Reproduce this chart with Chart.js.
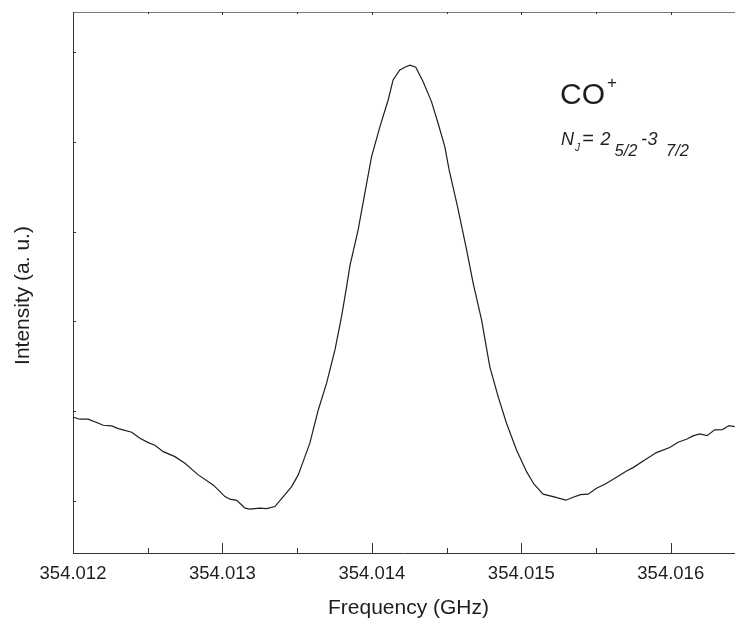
<!DOCTYPE html>
<html>
<head>
<meta charset="utf-8">
<script src="https://cdn.jsdelivr.net/npm/chart.js@4.4.0/dist/chart.umd.min.js"></script>
<style>
    body { margin: 0; background: #ffffff; }
    #wrap { width: 735px; height: 618px; position: relative; }
</style>
</head>
<body>
<div id="wrap"><canvas id="spectrumChart" width="735" height="618"></canvas></div>
<script>
// Data
const freqGHz = [
    354.012002, 354.012047, 354.012102, 354.012203, 354.012259, 354.012303, 354.012393, 354.012448, 354.012504, 354.012548,
    354.012604, 354.012682, 354.012749, 354.012838, 354.012938, 354.013017, 354.013050, 354.013095, 354.013117, 354.013151,
    354.013184, 354.013251, 354.013296, 354.013351, 354.013407, 354.013463, 354.013507, 354.013540, 354.013585, 354.013641,
    354.013697, 354.013753, 354.013797, 354.013831, 354.013853, 354.013908, 354.013953, 354.013998, 354.014054, 354.014109,
    354.014142, 354.014187, 354.014221, 354.014254, 354.014294, 354.014343, 354.014399, 354.014443, 354.014488, 354.014517,
    354.014575, 354.014634, 354.014678, 354.014734, 354.014789, 354.014845, 354.014901, 354.014968, 354.015035, 354.015084,
    354.015146, 354.015213, 354.015298, 354.015347, 354.015396, 354.015447, 354.015503, 354.015559, 354.015637, 354.015704,
    354.015748, 354.015826, 354.015904, 354.015993, 354.016049, 354.016105, 354.016149, 354.016194, 354.016243, 354.016294,
    354.016346, 354.016390, 354.016428
];
const intensity = [
    1.932, 1.910, 1.910, 1.843, 1.835, 1.805, 1.765, 1.698, 1.649, 1.620,
    1.549, 1.493, 1.420, 1.290, 1.178, 1.048, 1.019, 1.006, 0.974, 0.919,
    0.908, 0.919, 0.914, 0.937, 1.048, 1.159, 1.290, 1.438, 1.643, 2.013,
    2.311, 2.682, 3.052, 3.386, 3.617, 4.018, 4.427, 4.834, 5.168, 5.465,
    5.688, 5.800, 5.830, 5.852, 5.830, 5.669, 5.447, 5.206, 4.945, 4.686,
    4.263, 3.795, 3.424, 3.016, 2.496, 2.161, 1.865, 1.568, 1.326, 1.189,
    1.075, 1.048, 1.008, 1.041, 1.070, 1.075, 1.141, 1.186, 1.264, 1.334,
    1.371, 1.457, 1.538, 1.594, 1.654, 1.687, 1.724, 1.746, 1.727, 1.791,
    1.794, 1.839, 1.827
];
const xTicks = [354.012, 354.013, 354.014, 354.015, 354.016];
const xTickLabels = ['354.012', '354.013', '354.014', '354.015', '354.016'];
const xMinorTicks = [354.0125, 354.0135, 354.0145, 354.0155];
const yTicks = [1, 2, 3, 4, 5, 6];

const FONT = '"Liberation Sans", Arial, Helvetica, sans-serif';
const INK = '#1e1e1e';

// ticks, frame top and text labels
const decorPlugin = {
    id: 'decor',
    afterDraw(chart) {
        const ctx = chart.ctx;
        const area = chart.chartArea;
        const xs = chart.scales.x;
        const ys = chart.scales.y;
        ctx.save();

        // top frame line
        ctx.strokeStyle = '#7a7a7a';
        ctx.lineWidth = 1;
        ctx.beginPath();
        ctx.moveTo(area.left, area.top + 0.5);
        ctx.lineTo(area.right, area.top + 0.5);
        ctx.stroke();

        ctx.strokeStyle = '#333333';
        ctx.beginPath();
        xTicks.forEach(v => {
            const px = Math.round(xs.getPixelForValue(v)) + 0.5;
            ctx.moveTo(px, area.bottom);
            ctx.lineTo(px, area.bottom - 10);
            ctx.moveTo(px, area.top);
            ctx.lineTo(px, area.top + 3);
        });
        xMinorTicks.forEach(v => {
            const px = Math.round(xs.getPixelForValue(v)) + 0.5;
            ctx.moveTo(px, area.bottom);
            ctx.lineTo(px, area.bottom - 5);
            ctx.moveTo(px, area.top);
            ctx.lineTo(px, area.top + 2);
        });
        yTicks.forEach(v => {
            const py = Math.round(ys.getPixelForValue(v)) + 0.5;
            ctx.moveTo(area.left, py);
            ctx.lineTo(area.left + 3, py);
        });
        ctx.stroke();

        ctx.fillStyle = INK;
        ctx.textBaseline = 'alphabetic';

        // axis titles
        ctx.font = '21px ' + FONT;
        ctx.textAlign = 'center';
        ctx.fillText('Frequency (GHz)', 408.5, 614);
        ctx.save();
        ctx.translate(28.5, 295.5);
        ctx.rotate(-Math.PI / 2);
        ctx.fillText('Intensity (a. u.)', 0, 0);
        ctx.restore();

        // species label
        ctx.textAlign = 'left';
        ctx.font = '30px ' + FONT;
        ctx.fillText('CO', 560, 103.5);
        ctx.font = '17px ' + FONT;
        ctx.fillText('+', 607, 88);

        // transition label
        ctx.font = 'italic 18px ' + FONT;
        ctx.fillText('N', 561, 144.5);
        ctx.font = 'italic 10px ' + FONT;
        ctx.fillText('J', 575, 151);
        ctx.font = 'italic 20px ' + FONT;
        ctx.fillText('=', 582, 144.5);
        ctx.font = 'italic 18px ' + FONT;
        ctx.fillText('2', 600.5, 144.5);
        ctx.font = 'italic 16.5px ' + FONT;
        ctx.fillText('5/2', 614.5, 156);
        ctx.font = 'italic 18px ' + FONT;
        ctx.fillText('-', 641, 144.5);
        ctx.fillText('3', 647.5, 144.5);
        ctx.font = 'italic 16.5px ' + FONT;
        ctx.fillText('7/2', 666, 156);

        ctx.restore();
    }
};

const ctx = document.getElementById('spectrumChart').getContext('2d');
new Chart(ctx, {
    type: 'line',
    data: {
        datasets: [{
            data: freqGHz.map((f, i) => ({ x: f, y: intensity[i] })),
            borderColor: INK,
            borderWidth: 1.2,
            pointRadius: 0,
            tension: 0,
            fill: false
        }]
    },
    options: {
        responsive: false,
        animation: false,
        layout: { padding: { top: 12, right: 0, bottom: 0, left: 0 } },
        plugins: {
            legend: { display: false },
            tooltip: { enabled: false }
        },
        scales: {
            x: {
                type: 'linear',
                position: 'bottom',
                min: 354.012,
                max: 354.01643,
                afterBuildTicks: scale => {
                    scale.ticks = xTicks.map(v => ({ value: v }));
                },
                afterFit: scale => { scale.height = 65; },
                grid: { display: false, drawTicks: false },
                border: { display: true, color: '#333333', width: 1 },
                ticks: {
                    padding: 10,
                    maxRotation: 0,
                    autoSkip: false,
                    color: INK,
                    font: { family: FONT, size: 18.5 },
                    callback: (v, i) => xTickLabels[i]
                }
            },
            y: {
                type: 'linear',
                min: 0.42,
                max: 6.445,
                afterFit: scale => { scale.width = 73; },
                grid: { display: false, drawTicks: false },
                border: { display: true, color: '#333333', width: 1 },
                ticks: { display: false }
            }
        }
    },
    plugins: [decorPlugin]
});
</script>
</body>
</html>
